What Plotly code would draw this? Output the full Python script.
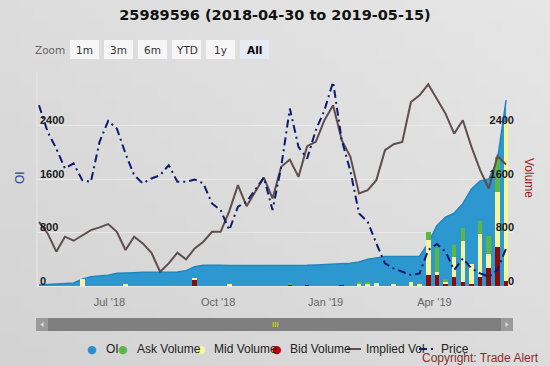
import plotly.graph_objects as go
import pandas as pd
import zlib
import struct
import base64

# ---------------- data ----------------
dates = pd.date_range("2018-04-30", periods=55, freq="7D")

oi = [15, 20, 25, 35, 45, 100, 140, 150, 160, 190, 200, 200, 205, 205, 205, 205, 210, 230, 290, 310,
      313, 310, 305, 305, 303, 300, 300, 300, 300, 300, 305, 310, 315, 320, 325, 330, 340, 360, 400, 420,
      440, 440, 440, 440, 445, 640, 900, 1030, 1090, 1230, 1450, 1570, 1600, 1880, 2780]

ask_vol = [0, 0, 0, 0, 0, 0, 0, 0, 0, 0, 0, 0, 0, 0, 0, 0, 0, 0, 0, 0,
           0, 0, 0, 0, 0, 0, 0, 0, 0, 20, 0, 0, 0, 0, 0, 0, 0, 25, 20, 0,
           0, 0, 0, 0, 0, 124, 353, 40, 185, 185, 0, 185, 270, 520, 0]

mid_vol = [0, 0, 0, 0, 0, 100, 0, 0, 0, 0, 30, 0, 0, 0, 0, 0, 0, 0, 15, 0,
           0, 0, 20, 0, 0, 0, 0, 0, 0, 0, 0, 0, 0, 0, 0, 0, 0, 40, 30, 50,
           0, 25, 0, 55, 30, 523, 45, 25, 300, 610, 290, 650, 220, 820, 2370]

bid_vol = [0, 0, 0, 0, 0, 0, 0, 0, 0, 0, 0, 0, 0, 0, 0, 0, 0, 0, 90, 0,
           0, 0, 0, 0, 0, 0, 0, 0, 0, 15, 0, 15, 0, 0, 0, 10, 0, 0, 0, 0,
           0, 0, 0, 0, 0, 164, 164, 40, 130, 65, 35, 130, 264, 587, 80]

implied_vol = [960, 786, 513, 737, 677, 761, 836, 876, 926, 811, 538, 737, 637, 498, 214, 338, 498, 398, 562, 662,
               811, 811, 1120, 1508, 1194, 1408, 1622, 1309, 1782, 1891, 1632, 2090, 2155, 2479, 2703, 2180, 1931, 1384, 1433, 1583,
               2031, 2120, 2155, 2752, 2852, 3016, 2802, 2578, 2279, 2479, 2080, 1732, 1458, 1941, 1817]

price = [2702, 2304, 2055, 1757, 1832, 1583, 1558, 2155, 2469, 2354, 1981, 1657, 1533, 1608, 1657, 1807, 1558, 1558, 1593, 1533,
         1234, 1135, 836, 1185, 1259, 1433, 1622, 1135, 1782, 2653, 2080, 1906, 2329, 2628, 3051, 2180, 1720, 1085, 961, 637,
         338, 264, 214, 164, 189, 537, 627, 512, 239, 413, 264, 189, 139, 239, 562]

tick_dates = ["2018-06-26", "2018-09-22", "2018-12-18", "2019-03-16"]
tick_labels = ["Jul '18", "Oct '18", "Jan '19", "Apr '19"]
y_ticks = [0, 800, 1600, 2400, 3200]
y_tick_text = ["0", "800", "1600", "2400", ""]

title_text = "25989596 (2018-04-30 to 2019-05-15)"
zoom_buttons = ["1m", "3m", "6m", "YTD", "1y", "All"]

# ---------------- layout helpers ----------------
W, H = 550, 366
L, R, T, B = 37, 513, 72, 294
Y_RANGE = [-119.6, 3200]


def px(x):
    return (x - L) / (R - L)


def py(y):
    return (B - y) / (B - T)


def gradient_png(w, h, c_dark, c_light):
    rows = b""
    for j in range(h):
        row = b"\x00"
        for i in range(w):
            t = 0.5 * (i / (w - 1)) + 0.5 * (1 - j / (h - 1))
            v = [int(round(a + (b - a) * t)) for a, b in zip(c_dark, c_light)]
            row += bytes(v)
        rows += row

    def chunk(tag, data):
        c = struct.pack(">I", len(data)) + tag + data
        return c + struct.pack(">I", zlib.crc32(tag + data) & 0xffffffff)

    png = b"\x89PNG\r\n\x1a\n" + chunk(b"IHDR", struct.pack(">IIBBBBB", w, h, 8, 2, 0, 0, 0))
    png += chunk(b"IDAT", zlib.compress(rows)) + chunk(b"IEND", b"")
    return "data:image/png;base64," + base64.b64encode(png).decode()


C_OI = "#2d97cf"
C_ASK = "#5cb646"
C_MID = "#f7f59c"
C_BID = "#8e0a0a"
C_IV = "#5e4e4e"
C_PRICE = "#0d1a70"
PRICE_DASH = "8px,4px,2px,4px"

fig = go.Figure()

fig.add_trace(go.Scatter(x=dates, y=oi, name="OI", mode="lines", fill="tozeroy",
                         fillcolor=C_OI, line=dict(color="#1f86c2", width=1.5), yaxis="y"))
fig.add_trace(go.Bar(x=dates, y=bid_vol, name="Bid Volume", marker=dict(color=C_BID, line=dict(width=0)), yaxis="y2"))
fig.add_trace(go.Bar(x=dates, y=mid_vol, name="Mid Volume", marker=dict(color=C_MID, line=dict(width=0)), yaxis="y2"))
fig.add_trace(go.Bar(x=dates, y=ask_vol, name="Ask Volume", marker=dict(color=C_ASK, line=dict(width=0)), yaxis="y2"))
fig.add_trace(go.Scatter(x=dates, y=implied_vol, name="Implied Vol", mode="lines",
                         line=dict(color=C_IV, width=2), yaxis="y3"))
fig.add_trace(go.Scatter(x=dates, y=price, name="Price", mode="lines",
                         line=dict(color=C_PRICE, width=2, dash=PRICE_DASH), yaxis="y3"))

tick_font = dict(family="Liberation Sans", size=11, color="#1a1a1a", weight="bold")

fig.update_layout(
    width=W, height=H,
    margin=dict(l=L, r=W - R, t=T, b=H - B, pad=0),
    paper_bgcolor="#dcdcdc",
    plot_bgcolor="rgba(0,0,0,0)",
    showlegend=False,
    barmode="stack",
    bargap=0.47,
    title=dict(text=title_text, x=0.5, xref="container", xanchor="center",
               y=1 - 15 / H, yref="container", yanchor="middle",
               font=dict(family="DejaVu Sans", size=14.5, color="#111111", weight="bold")),
    xaxis=dict(type="date", range=["2018-04-28 09:10", "2019-05-18 14:24"],
               tickvals=tick_dates, ticktext=tick_labels, showgrid=False, zeroline=False,
               ticks="", tickfont=dict(family="Liberation Sans", size=11, color="#666666"),
               ticklabelstandoff=0, showline=False),
    yaxis=dict(range=Y_RANGE, tickvals=y_ticks, ticktext=y_tick_text, showgrid=True,
               gridcolor="#e9e9e9", gridwidth=1, zeroline=False, ticks="",
               ticklabelposition="inside", ticklabelshift=-5, ticklabelstandoff=0,
               tickfont=tick_font, showline=False),
    yaxis2=dict(range=Y_RANGE, overlaying="y", side="right", tickvals=y_ticks[:-1],
                showgrid=False, zeroline=False, ticks="", ticklabelposition="inside",
                ticklabelshift=-5, ticklabelstandoff=-4, tickfont=tick_font),
    yaxis3=dict(range=Y_RANGE, overlaying="y", visible=False),
    images=[dict(source=gradient_png(40, 28, (211, 211, 211), (230, 230, 230)),
                 xref="paper", yref="paper", x=px(0), y=py(0), sizex=W / (R - L), sizey=H / (B - T),
                 xanchor="left", yanchor="top", sizing="stretch", layer="below")],
)

shapes = []
annotations = []


def note(text, x, y, font, xanchor="center", **kw):
    annotations.append(dict(text=text, x=px(x), y=py(y), xref="paper", yref="paper", showarrow=False,
                            xanchor=xanchor, yanchor="middle", font=font, **kw))


# faint left axis line (Highcharts-style), from plot top down to the zero line
shapes.append(dict(type="line", xref="paper", yref="paper", x0=0, x1=0, y0=py(286), y1=1,
                   line=dict(color="#e6e8ee", width=1), layer="below"))

# axis titles
note("OI", 20, 178, dict(family="Liberation Sans", size=12, color="#2a4596"), textangle=-90)
note("Volume", 529, 178, dict(family="Liberation Sans", size=12, color="#9a1c1c"), textangle=90)

# zoom buttons
note("Zoom", 50, 49.5, dict(family="DejaVu Sans", size=10.5, color="#666666"))
btn_x = [70, 104, 138, 172, 206, 240]
for lbl, bx in zip(zoom_buttons, btn_x):
    sel = lbl == "All"
    shapes.append(dict(type="rect", xref="paper", yref="paper", x0=px(bx), x1=px(bx + 29),
                       y0=py(59), y1=py(40), fillcolor="#e6ebf5" if sel else "#f6f6f6",
                       line=dict(width=0), layer="above"))
    note(lbl, bx + 14.5, 49.5, dict(family="DejaVu Sans", size=10.5, color="#000000" if sel else "#333333",
                                    weight="bold" if sel else "normal"))

# scrollbar
shapes.append(dict(type="rect", xref="paper", yref="paper", x0=px(36), x1=px(513), y0=py(331), y1=py(318),
                   fillcolor="#7f7f7f", line=dict(width=0)))
shapes.append(dict(type="rect", xref="paper", yref="paper", x0=px(36), x1=px(48), y0=py(331), y1=py(318),
                   fillcolor="#9a9a9a", line=dict(width=0)))
shapes.append(dict(type="rect", xref="paper", yref="paper", x0=px(501), x1=px(513), y0=py(331), y1=py(318),
                   fillcolor="#9a9a9a", line=dict(width=0)))
shapes.append(dict(type="path", xref="paper", yref="paper",
                   path=f"M {px(40.5)} {py(324.5)} L {px(43.5)} {py(322)} L {px(43.5)} {py(327)} Z",
                   fillcolor="#e0e0e0", line=dict(width=0)))
shapes.append(dict(type="path", xref="paper", yref="paper",
                   path=f"M {px(508.5)} {py(324.5)} L {px(505.5)} {py(322)} L {px(505.5)} {py(327)} Z",
                   fillcolor="#e0e0e0", line=dict(width=0)))
note("III", 275, 324.5, dict(family="Liberation Sans", size=8, color="#e6e600"))

# legend
leg_y = 349
leg_font = dict(family="Liberation Sans", size=12, color="#222222")
for cx, col in [(92, "#2a8fcf"), (123, C_ASK), (201, C_MID), (277, "#c00000")]:
    note("●", cx, leg_y, dict(family="DejaVu Sans", size=11, color=col))
for tx, txt in [(104, "OI"), (135, "Ask Volume"), (211.5, "Mid Volume"), (288, "Bid Volume"),
                (364, "Implied Vol"), (439, "Price")]:
    note(txt, tx, leg_y, leg_font, xanchor="left")
shapes.append(dict(type="line", xref="paper", yref="paper", x0=px(347), x1=px(361), y0=py(leg_y), y1=py(leg_y),
                   line=dict(color=C_IV, width=2)))
shapes.append(dict(type="line", xref="paper", yref="paper", x0=px(419), x1=px(436), y0=py(leg_y), y1=py(leg_y),
                   line=dict(color=C_PRICE, width=2, dash=PRICE_DASH)))

note("Copyright: Trade Alert", 541, 357.5, dict(family="Liberation Sans", size=12, color="#8e2a2a"),
     xanchor="right")

fig.update_layout(shapes=shapes, annotations=annotations)

fig.write_html("out.html", config={"displayModeBar": False},
               post_script="document.body.style.margin='0px';")
